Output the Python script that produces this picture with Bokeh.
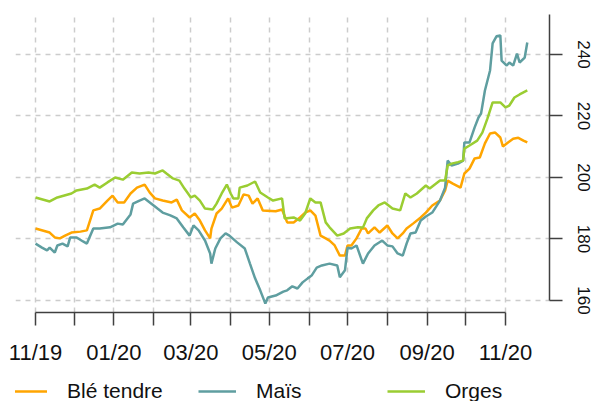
import pandas as pd
from bokeh.plotting import figure
from bokeh.layouts import column
from bokeh.models import Range1d, FixedTicker, Legend, LegendItem
from bokeh.embed import file_html
from bokeh.resources import INLINE

# ---------------- data ----------------
ble_dates = ["2019-11-01", "2019-11-12", "2019-11-16", "2019-11-20", "2019-11-24", "2019-11-29",
             "2019-12-06", "2019-12-11", "2019-12-16", "2019-12-21", "2019-12-27", "2019-12-31",
             "2020-01-04", "2020-01-09", "2020-01-14", "2020-01-19", "2020-01-25", "2020-01-29",
             "2020-02-02", "2020-02-08", "2020-02-15", "2020-02-19", "2020-02-23", "2020-02-29",
             "2020-03-04", "2020-03-08", "2020-03-12", "2020-03-16", "2020-03-17", "2020-03-21",
             "2020-03-25", "2020-03-30", "2020-04-02", "2020-04-07", "2020-04-11", "2020-04-15",
             "2020-04-18", "2020-04-22", "2020-04-26", "2020-05-06", "2020-05-11", "2020-05-15",
             "2020-05-20", "2020-05-25", "2020-05-29", "2020-06-02", "2020-06-06", "2020-06-10",
             "2020-06-14", "2020-06-17", "2020-06-21", "2020-06-25", "2020-06-29", "2020-07-01",
             "2020-07-04", "2020-07-08", "2020-07-12", "2020-07-15", "2020-07-17", "2020-07-22",
             "2020-07-26", "2020-08-01", "2020-08-05", "2020-08-09", "2020-08-13", "2020-08-16",
             "2020-08-21", "2020-08-27", "2020-08-31", "2020-09-05", "2020-09-11", "2020-09-15",
             "2020-09-17", "2020-09-21", "2020-09-27", "2020-09-30", "2020-10-04", "2020-10-08",
             "2020-10-12", "2020-10-16", "2020-10-20", "2020-10-24", "2020-10-28", "2020-10-30",
             "2020-11-03", "2020-11-07", "2020-11-11", "2020-11-15", "2020-11-18"]
ble_values = [183.4, 182.1, 180.5, 180.2, 181.1, 182.1,
              182.4, 182.8, 189.3, 189.9, 192.5, 194.1,
              191.9, 191.9, 194.8, 196.7, 197.7, 195.1,
              193.2, 192.5, 191.9, 192.8, 189.3, 187.0,
              188.3, 186.0, 182.8, 180.2, 183.4, 188.3,
              189.9, 193.2, 190.2, 190.9, 194.5, 194.1,
              191.5, 193.2, 189.3, 189.0, 189.6, 185.4,
              185.4, 187.0, 188.6, 189.3, 187.6, 181.1,
              180.2, 179.5, 177.9, 174.6, 174.6, 177.9,
              177.9, 180.2, 183.4, 183.4, 181.8, 183.8,
              182.1, 184.4, 181.8, 180.2, 181.8, 183.4,
              185.0, 187.0, 188.6, 190.9, 192.5, 195.8,
              199.0, 198.0, 196.7, 201.3, 202.9, 206.2,
              206.5, 211.1, 214.3, 214.6, 213.0, 210.1,
              211.4, 212.6, 212.9, 212.0, 211.4]

mais_dates = ["2019-11-01", "2019-11-06", "2019-11-10", "2019-11-12", "2019-11-16", "2019-11-18",
              "2019-11-22", "2019-11-26", "2019-11-28", "2019-12-03", "2019-12-08", "2019-12-11",
              "2019-12-16", "2019-12-21", "2019-12-29", "2020-01-04", "2020-01-08", "2020-01-14",
              "2020-01-16", "2020-01-21", "2020-01-25", "2020-01-29", "2020-02-04", "2020-02-08",
              "2020-02-14", "2020-02-19", "2020-02-24", "2020-02-29", "2020-03-03", "2020-03-07",
              "2020-03-12", "2020-03-16", "2020-03-17", "2020-03-20", "2020-03-24", "2020-03-28",
              "2020-03-31", "2020-04-06", "2020-04-12", "2020-04-16", "2020-04-20", "2020-04-24",
              "2020-04-28", "2020-04-30", "2020-05-06", "2020-05-12", "2020-05-15", "2020-05-19",
              "2020-05-23", "2020-05-27", "2020-05-31", "2020-06-03", "2020-06-07", "2020-06-11",
              "2020-06-17", "2020-06-23", "2020-06-25", "2020-06-29", "2020-07-01", "2020-07-04",
              "2020-07-08", "2020-07-13", "2020-07-17", "2020-07-22", "2020-07-28", "2020-08-01",
              "2020-08-05", "2020-08-09", "2020-08-13", "2020-08-16", "2020-08-19", "2020-08-23",
              "2020-08-27", "2020-08-31", "2020-09-05", "2020-09-11", "2020-09-15", "2020-09-17",
              "2020-09-20", "2020-09-25", "2020-09-29", "2020-09-30", "2020-10-04", "2020-10-08",
              "2020-10-11", "2020-10-13", "2020-10-16", "2020-10-20", "2020-10-22", "2020-10-25",
              "2020-10-28", "2020-10-29", "2020-11-02", "2020-11-04", "2020-11-07", "2020-11-10",
              "2020-11-12", "2020-11-16", "2020-11-18"]
mais_values = [178.5, 177.2, 176.3, 177.2, 175.6, 177.9,
               178.5, 177.6, 180.5, 180.5, 179.2, 178.5,
               183.4, 183.4, 183.8, 185.0, 184.7, 188.0,
               191.5, 192.5, 193.2, 191.9, 189.9, 188.6,
               187.7, 186.7, 183.8, 181.1, 184.4, 182.8,
               179.5, 175.3, 172.0, 176.9, 180.2, 181.8,
               181.1, 178.9, 176.9, 172.0, 167.2, 163.3,
               159.0, 161.0, 161.6, 162.9, 163.3, 164.6,
               163.9, 165.9, 167.2, 168.1, 170.7, 171.4,
               172.0, 171.4, 167.6, 169.8, 177.2, 176.9,
               177.9, 172.0, 175.3, 177.9, 179.5, 177.9,
               177.6, 175.3, 174.6, 178.5, 181.8, 182.1,
               186.0, 187.3, 188.6, 192.5, 196.7, 205.5,
               203.9, 204.5, 205.5, 211.4, 211.4, 216.3,
               219.5, 220.8, 228.3, 234.8, 243.6, 245.9,
               246.2, 238.0, 236.4, 237.4, 236.4, 240.3,
               237.4, 239.0, 243.9]

orges_dates = ["2019-11-01", "2019-11-12", "2019-11-18", "2019-11-29", "2019-12-03", "2019-12-11",
               "2019-12-17", "2019-12-21", "2019-12-27", "2020-01-02", "2020-01-08", "2020-01-15",
               "2020-01-21", "2020-01-28", "2020-02-02", "2020-02-08", "2020-02-11", "2020-02-16",
               "2020-02-21", "2020-02-25", "2020-03-01", "2020-03-04", "2020-03-08", "2020-03-12",
               "2020-03-18", "2020-03-21", "2020-03-25", "2020-03-29", "2020-04-01", "2020-04-03",
               "2020-04-07", "2020-04-08", "2020-04-14", "2020-04-20", "2020-04-24", "2020-04-30",
               "2020-05-04", "2020-05-11", "2020-05-13", "2020-05-20", "2020-05-25", "2020-05-29",
               "2020-06-02", "2020-06-06", "2020-06-10", "2020-06-14", "2020-06-17", "2020-06-23",
               "2020-06-28", "2020-07-03", "2020-07-09", "2020-07-13", "2020-07-16", "2020-07-21",
               "2020-07-25", "2020-07-30", "2020-08-05", "2020-08-11", "2020-08-15", "2020-08-19",
               "2020-08-24", "2020-08-31", "2020-09-03", "2020-09-11", "2020-09-15", "2020-09-17",
               "2020-09-20", "2020-09-25", "2020-09-29", "2020-09-30", "2020-10-04", "2020-10-10",
               "2020-10-14", "2020-10-18", "2020-10-22", "2020-10-28", "2020-11-01", "2020-11-04",
               "2020-11-08", "2020-11-12", "2020-11-18"]
orges_values = [193.5, 192.2, 193.5, 194.8, 195.8, 196.4,
                197.7, 196.7, 198.4, 200.0, 199.3, 201.6,
                201.3, 201.6, 201.3, 202.3, 201.3, 199.7,
                199.0, 196.4, 193.5, 194.1, 192.5, 189.9,
                189.6, 191.5, 194.8, 197.7, 194.8, 193.2,
                193.2, 196.7, 197.4, 198.7, 195.1, 193.5,
                192.5, 193.2, 186.7, 187.0, 186.0, 188.3,
                193.2, 191.9, 191.9, 185.4, 183.8, 181.1,
                181.8, 183.4, 183.8, 183.7, 186.7, 189.3,
                190.9, 191.9, 189.9, 189.3, 194.8, 193.5,
                194.8, 197.4, 196.4, 199.0, 199.0, 203.9,
                204.5, 205.0, 205.5, 209.4, 210.4, 212.0,
                214.6, 219.2, 224.4, 224.4, 222.8, 223.4,
                226.0, 227.0, 228.3]

series_names = ["Blé tendre", "Maïs", "Orges"]
series_colors = ["#FFA500", "#5F9EA0", "#9ACD32"]

month_ticks = ["2019-11-01", "2019-12-01", "2020-01-01", "2020-02-01", "2020-03-01",
               "2020-04-01", "2020-05-01", "2020-06-01", "2020-07-01", "2020-08-01",
               "2020-09-01", "2020-10-01", "2020-11-01"]
month_labels = ["11/19", "", "01/20", "", "03/20", "", "05/20", "", "07/20", "", "09/20", "", "11/20"]
y_ticks = [160, 180, 200, 220, 240]

series = [(ble_dates, ble_values), (mais_dates, mais_values), (orges_dates, orges_values)]


def ms(s):
    return float(pd.Timestamp(s).value // 10**6)


# ---------------- main figure ----------------
x_start = pd.Timestamp(month_ticks[0]) - pd.Timedelta(days=15.6)
x_end = pd.Timestamp(month_ticks[-1]) + pd.Timedelta(days=34.3)

p = figure(width=595, height=376, x_axis_type="datetime", y_axis_location="right",
           x_range=Range1d(x_start, x_end), y_range=Range1d(156.1, 253.0),
           output_backend="svg", toolbar_location=None,
           min_border_left=15, min_border_top=14, min_border_right=46, min_border_bottom=64)
p.outline_line_color = None
p.background_fill_color = "white"
p.border_fill_color = "white"

for (dates, vals), col in zip(series, series_colors):
    p.line(pd.to_datetime(dates), vals, line_color=col, line_width=2.5)

# x axis
xa = p.xaxis[0]
xa.ticker = FixedTicker(ticks=[ms(d) for d in month_ticks])
xa.major_label_overrides = {ms(d): lab for d, lab in zip(month_ticks, month_labels)}
xa.bounds = (ms(month_ticks[0]), ms(month_ticks[-1]))
xa.axis_line_color = "#404040"
xa.axis_line_width = 1.5
xa.major_tick_line_color = "#404040"
xa.major_tick_line_width = 1.5
xa.major_tick_out = 13
xa.major_tick_in = 0
xa.minor_tick_line_color = None
xa.major_label_standoff = 14
xa.major_label_text_font = "Liberation Sans"
xa.major_label_text_font_size = "22px"
xa.major_label_text_color = "#111111"

# y axis
ya = p.yaxis[0]
ya.ticker = FixedTicker(ticks=y_ticks)
ya.bounds = (160, 253)
ya.axis_line_color = "#404040"
ya.axis_line_width = 1.5
ya.major_tick_line_color = "#404040"
ya.major_tick_line_width = 1.5
ya.major_tick_out = 13
ya.major_tick_in = 0
ya.minor_tick_line_color = None
ya.major_label_orientation = "vertical"
ya.major_label_standoff = 15
ya.major_label_text_font = "Liberation Sans"
ya.major_label_text_font_size = "17px"
ya.major_label_text_color = "#111111"

# grids
for g in (p.xgrid[0], p.ygrid[0]):
    g.grid_line_color = "#CCCCCC"
    g.grid_line_width = 1.5
    g.grid_line_dash = "5 5"

# ---------------- legend strip ----------------
# same series drawn in a strip whose value range lies outside the data, so only the legend shows
q = figure(width=595, height=25, output_backend="svg", toolbar_location=None,
           x_axis_type="datetime", x_range=Range1d(x_start, x_end), y_range=Range1d(0, 1),
           x_axis_location=None, y_axis_location=None,
           min_border_left=0, min_border_right=0, min_border_top=0, min_border_bottom=0)
q.outline_line_color = None
q.xgrid.visible = False
q.ygrid.visible = False
q.border_fill_color = "white"
q.background_fill_color = "white"

legend_renderers = [q.line(pd.to_datetime(d), v, line_color=c, line_width=2.5)
                    for (d, v), c in zip(series, series_colors)]
legend = Legend(items=[LegendItem(label=n, renderers=[r]) for n, r in zip(series_names, legend_renderers)],
                location=(-6, -2), orientation="horizontal",
                border_line_color=None, background_fill_alpha=0,
                padding=0, margin=0, spacing=21,
                glyph_width=38, glyph_height=24, label_height=24, label_width=110,
                label_standoff=20, label_text_font="Liberation Sans",
                label_text_font_size="21px", label_text_color="#111111")
q.add_layout(legend)

layout = column(p, q, spacing=0)
open("out.html", "w").write(file_html(layout, INLINE))
